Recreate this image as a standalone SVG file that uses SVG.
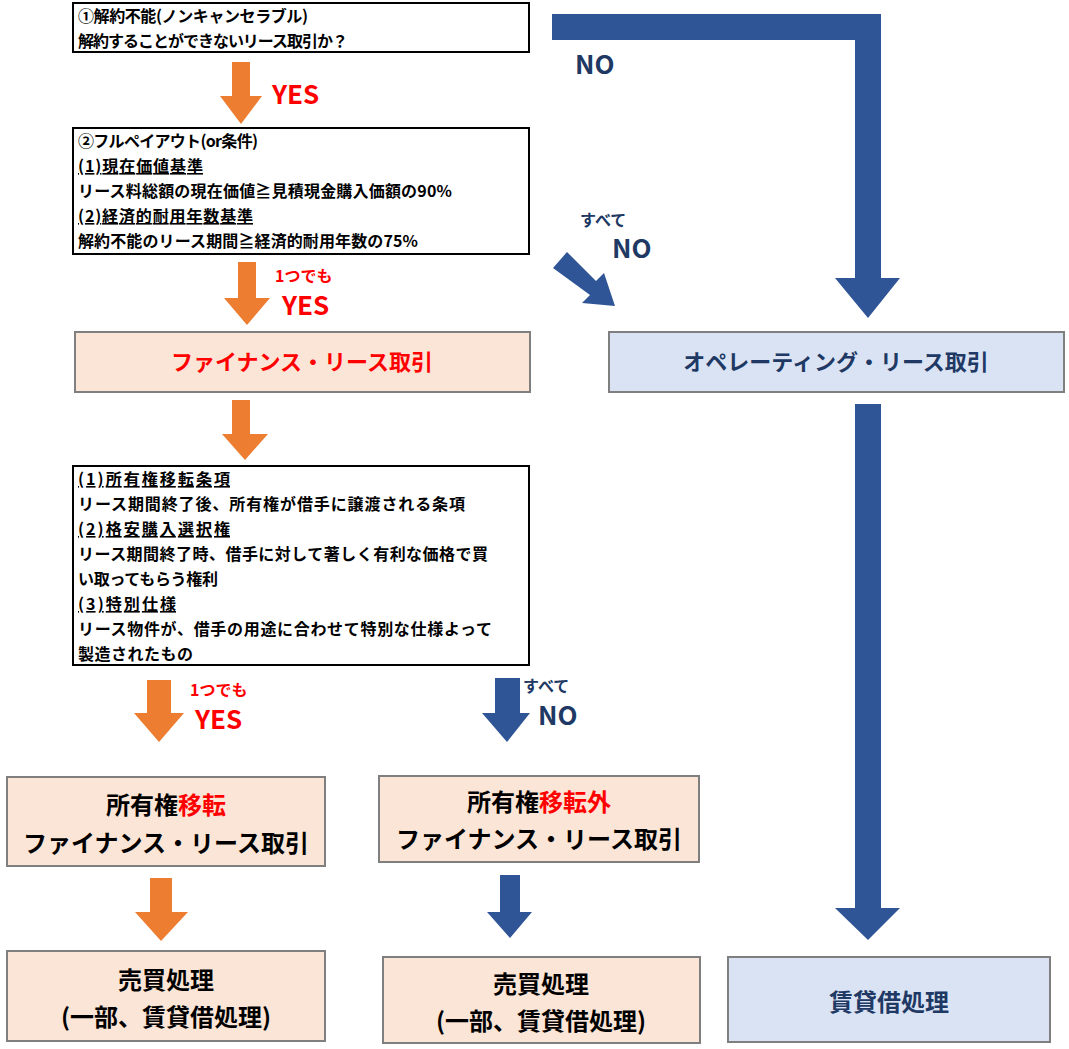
<svg xmlns="http://www.w3.org/2000/svg" width="1069" height="1049" viewBox="0 0 1069 1049">
<style>
text{font-family:"Noto Sans CJK JP","Liberation Sans",sans-serif;font-weight:bold}
.t{font-size:16px;fill:#000}
.u{text-decoration:underline}
.q{fill:#fff;stroke:#000;stroke-width:2}
.p{fill:#FBE5D6;stroke:#7F7F7F;stroke-width:2}
.b{fill:#DAE3F3;stroke:#7F7F7F;stroke-width:2}
.o{fill:#ED7D31}
.n{fill:#2F5597}
.r{fill:#FF0000}
.nv{fill:#203864}
.big{font-size:24px}
</style>
<rect width="1069" height="1049" fill="#fff"/>
<g id="connectors">
<polygon class="o" points="232,62 250,62 250,96 262,96 241,124 220,96 232,96"/>
<polygon class="o" points="238,262 256,262 256,298 270,298 247,325 224,298 238,298"/>
<polygon class="o" points="232,400 250,400 250,434 268,434 245,460 222,434 232,434"/>
<polygon class="o" points="147,680 171,680 171,713 184,713 159,742 134,713 147,713"/>
<polygon class="o" points="150,878 172,878 172,912 188,912 161,941 135,912 150,912"/>
<polygon class="n" points="495,678 520,678 520,713 530,713 507,742 482,713 495,713"/>
<polygon class="n" points="500,875 520,875 520,912 532,912 510,938 487,912 500,912"/>
<polygon class="n" points="552,14 881,14 881,278 900,278 868,318 835,278 855,278 855,40 552,40"/>
<polygon class="n" points="855,404 881,404 881,908 900,908 868,940 835,908 855,908"/>
<polygon class="n" points="553,268 567,252 596,281 604,273 615,306 582,303 590,295"/>
<text class="r" x="272" y="104" font-size="26">YES</text>
<text class="r" x="275" y="282" font-size="16">1つでも</text>
<text class="r" x="282" y="315" font-size="26">YES</text>
<text class="r" x="190" y="696" font-size="16">1つでも</text>
<text class="r" x="195" y="729" font-size="26">YES</text>
<text class="nv" x="575" y="74" font-size="26">NO</text>
<text class="nv" x="580" y="226" font-size="16">すべて</text>
<text class="nv" x="612" y="258" font-size="26">NO</text>
<text class="nv" x="523" y="692" font-size="16">すべて</text>
<text class="nv" x="538" y="725" font-size="26">NO</text>
</g>
<g id="box1">
<rect class="q" x="73" y="3" width="456" height="49"/>
<text class="t" x="78" y="22" textLength="230">①解約不能(ノンキャンセラブル)</text>
<text class="t" x="78" y="47" textLength="270">解約することができないリース取引か？</text>
</g>
<g id="box2">
<rect class="q" x="73" y="128" width="456" height="126"/>
<text class="t" x="78" y="147" textLength="180">②フルペイアウト(or条件)</text>
<text class="t u" x="78" y="172" textLength="125">(1)現在価値基準</text>
<text class="t" x="78" y="197" textLength="374">リース料総額の現在価値≧見積現金購入価額の90%</text>
<text class="t u" x="78" y="222" textLength="175">(2)経済的耐用年数基準</text>
<text class="t" x="78" y="247" textLength="340">解約不能のリース期間≧経済的耐用年数の75%</text>
</g>
<g id="finance">
<rect class="p" x="75" y="332" width="455" height="60"/>
<text class="r" x="302" y="370" font-size="22" text-anchor="middle">ファイナンス・リース取引</text>
</g>
<g id="operating">
<rect class="b" x="609" y="332" width="455" height="60"/>
<text class="nv" x="836" y="370" font-size="22" text-anchor="middle">オペレーティング・リース取引</text>
</g>
<g id="box3">
<rect class="q" x="73" y="466" width="456" height="199"/>
<text class="t u" x="78" y="485" textLength="152">(1)所有権移転条項</text>
<text class="t" x="78" y="510" textLength="387">リース期間終了後、所有権が借手に譲渡される条項</text>
<text class="t u" x="78" y="535" textLength="152">(2)格安購入選択権</text>
<text class="t" x="78" y="560" textLength="410">リース期間終了時、借手に対して著しく有利な価格で買</text>
<text class="t" x="78" y="585" textLength="140">い取ってもらう権利</text>
<text class="t u" x="78" y="610" textLength="98">(3)特別仕様</text>
<text class="t" x="78" y="635" textLength="414">リース物件が、借手の用途に合わせて特別な仕様よって</text>
<text class="t" x="78" y="660" textLength="115">製造されたもの</text>
</g>
<g id="transfer">
<rect class="p" x="7" y="777" width="318" height="89"/>
<text class="big" x="166" y="814" text-anchor="middle">所有権<tspan class="r">移転</tspan></text>
<text class="big" x="166" y="852" text-anchor="middle">ファイナンス・リース取引</text>
</g>
<g id="nontransfer">
<rect class="p" x="379" y="776" width="320" height="86"/>
<text class="big" x="539" y="811" text-anchor="middle">所有権<tspan class="r">移転外</tspan></text>
<text class="big" x="539" y="848" text-anchor="middle">ファイナンス・リース取引</text>
</g>
<g id="sale1">
<rect class="p" x="7" y="951" width="318" height="90"/>
<text class="big" x="166" y="989" text-anchor="middle">売買処理</text>
<text class="big" x="166" y="1026" text-anchor="middle">(一部、賃貸借処理)</text>
</g>
<g id="sale2">
<rect class="p" x="383" y="957" width="317" height="86"/>
<text class="big" x="541" y="993" text-anchor="middle">売買処理</text>
<text class="big" x="541" y="1030" text-anchor="middle">(一部、賃貸借処理)</text>
</g>
<g id="lease">
<rect class="b" x="728" y="957" width="322" height="85"/>
<text class="big" x="889" y="1011" text-anchor="middle" fill="#203864">賃貸借処理</text>
</g>
</svg>
